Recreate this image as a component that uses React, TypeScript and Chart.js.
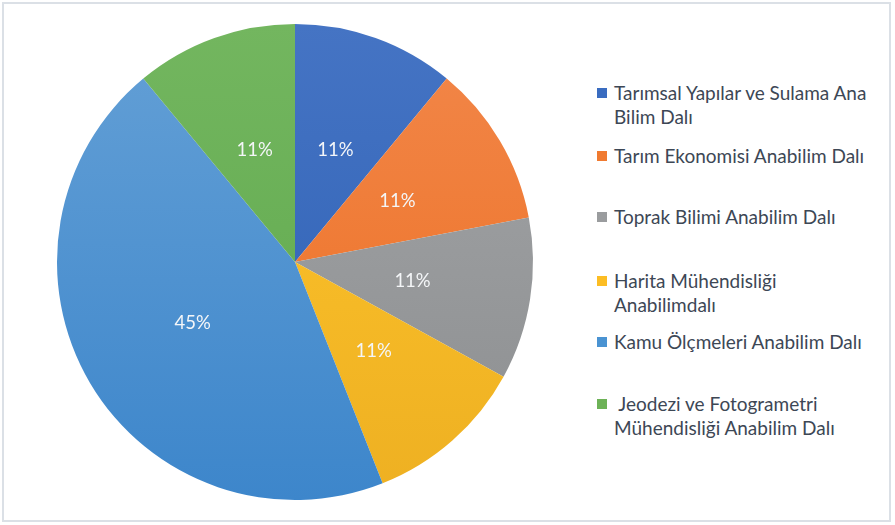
import React, { useEffect, useRef } from "react";
import { Chart, registerables } from "chart.js";

Chart.register(...registerables);

const categories = [
  "Tarımsal Yapılar ve Sulama Ana Bilim Dalı",
  "Tarım Ekonomisi Anabilim Dalı",
  "Toprak Bilimi Anabilim Dalı",
  "Harita Mühendisliği Anabilimdalı",
  "Kamu Ölçmeleri Anabilim Dalı",
  " Jeodezi ve Fotogrametri Mühendisliği Anabilim Dalı",
];
const legendLines = [
  ["Tarımsal Yapılar ve Sulama Ana", "Bilim Dalı"],
  ["Tarım Ekonomisi Anabilim Dalı"],
  ["Toprak Bilimi Anabilim Dalı"],
  ["Harita Mühendisliği", "Anabilimdalı"],
  ["Kamu Ölçmeleri Anabilim Dalı"],
  ["\u00a0Jeodezi ve Fotogrametri", "Mühendisliği Anabilim Dalı"],
];
const values = [11, 11, 11, 11, 45, 11];
const colorsTop = ["#4574c4", "#f2874a", "#a3a5a7", "#ffc62c", "#64a0d6", "#73b65f"];
const colorsBottom = ["#2c5fb3", "#ec6e20", "#8c8e90", "#eeb022", "#3d86cb", "#5ea84c"];
const legendColors = ["#3a6cc0", "#f07a30", "#9a9c9e", "#fcbd24", "#4a93d2", "#6db257"];
const legendTops = [93, 156, 217, 281, 342, 404];

const FONT = "Lato, 'Open Sans', sans-serif";

const labelPlugin = {
  id: "pctLabels",
  afterDatasetsDraw(chart: any) {
    const ctx = chart.ctx;
    const meta = chart.getDatasetMeta(0);
    const data = chart.data.datasets[0].data as number[];
    ctx.save();
    ctx.fillStyle = "#f4f6f8";
    ctx.font = `18.5px ${FONT}`;
    ctx.textAlign = "center";
    ctx.textBaseline = "middle";
    meta.data.forEach((arc: any, i: number) => {
      const p = arc.tooltipPosition();
      ctx.fillText(`${data[i]}%`, p.x, p.y);
    });
    ctx.restore();
  },
};

export default function App() {
  const ref = useRef<HTMLCanvasElement>(null);
  useEffect(() => {
    const canvas = ref.current!;
    const chart = new Chart(canvas, {
      type: "pie",
      data: {
        labels: categories,
        datasets: [
          {
            data: values,
            borderWidth: 0,
            backgroundColor: (c: any) => {
              const ch = c.chart;
              const area = ch.chartArea;
              if (!area) return colorsTop[c.dataIndex];
              const g = ch.ctx.createLinearGradient(0, area.top, 0, area.bottom);
              g.addColorStop(0, colorsTop[c.dataIndex]);
              g.addColorStop(1, colorsBottom[c.dataIndex]);
              return g;
            },
          },
        ],
      },
      options: {
        responsive: false,
        animation: false,
        layout: { padding: { top: 24, bottom: 25, left: 0, right: 0 } },
        plugins: { legend: { display: false }, tooltip: { enabled: false } },
      },
      plugins: [labelPlugin],
    });
    return () => chart.destroy();
  }, []);

  return (
    <div style={{ position: "fixed", left: 0, top: 0, width: 895, height: 525, background: "#fff" }}>
      <div
        style={{
          position: "absolute",
          left: 2,
          top: 2,
          width: 885,
          height: 516,
          border: "2px solid #dbe0e6",
          background: "#fff",
        }}
      />
      <canvas ref={ref} width={590} height={525} style={{ position: "absolute", left: 0, top: 0 }} />
      {legendLines.map((lines, i) => (
        <div key={i} style={{ position: "absolute", left: 597, top: legendTops[i] - 12 }}>
          <div
            style={{
              position: "absolute",
              left: 0,
              top: 7,
              width: 10,
              height: 10,
              background: legendColors[i],
            }}
          />
          <div
            style={{
              position: "absolute",
              left: 17,
              top: 0,
              whiteSpace: "nowrap",
              font: `19px ${FONT}`,
              lineHeight: "24px",
              color: "#3d4755",
            }}
          >
            {lines.map((l, j) => (
              <div key={j}>{l}</div>
            ))}
          </div>
        </div>
      ))}
    </div>
  );
}
